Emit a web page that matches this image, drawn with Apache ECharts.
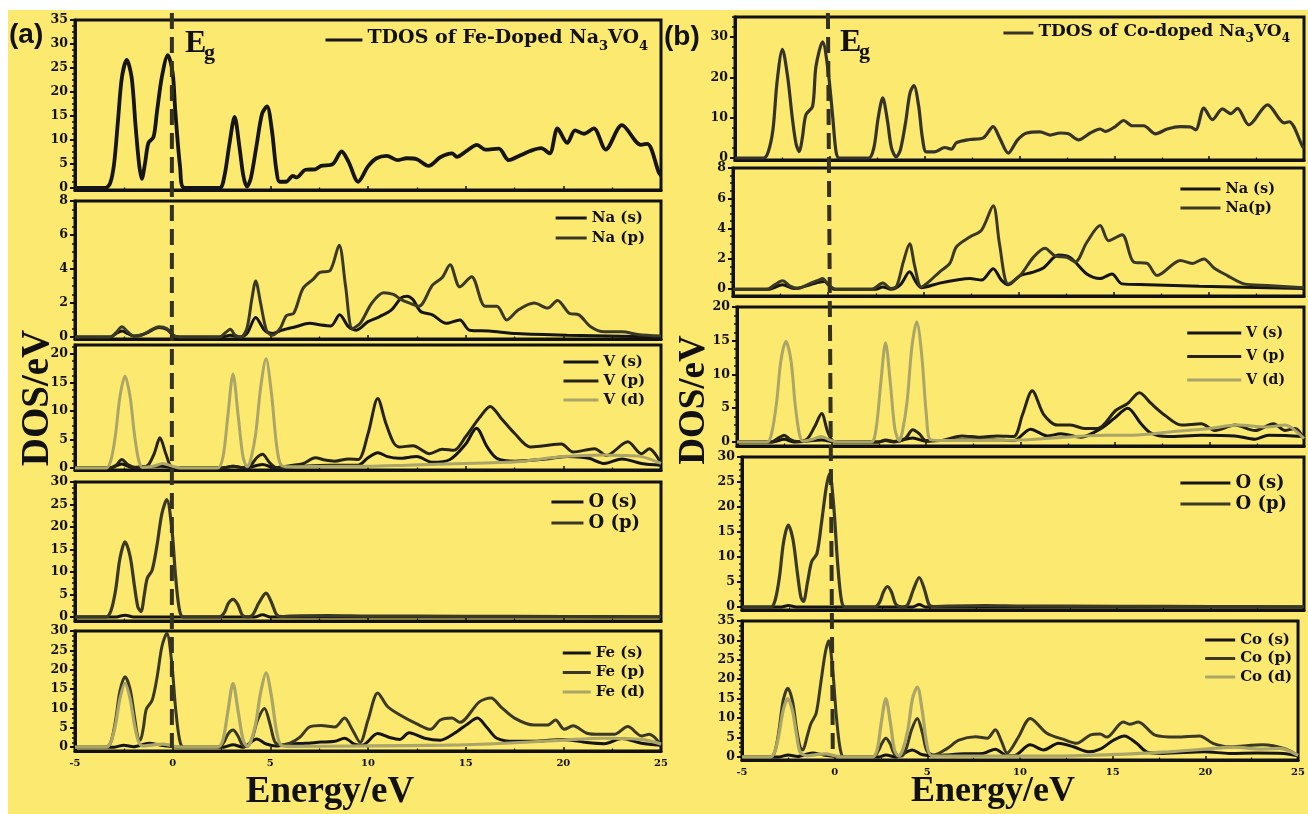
<!DOCTYPE html>
<html><head><meta charset="utf-8">
<script src="https://cdn.jsdelivr.net/npm/echarts@6.0.0/dist/echarts.min.js"></script>
<style>html,body{margin:0;padding:0;background:#fff}#c{width:1308px;height:814px}</style>
</head><body><div id="c"></div>
<script>
// ---------------- DATA (Energy eV, DOS) ----------------
const a_tdos = [[-5,0],[-3.45,0],[-3.2,1],[-3.0,5],[-2.8,14],[-2.6,23],[-2.35,26.7],[-2.1,23],[-1.9,13],[-1.72,5],[-1.58,1.9],[-1.42,5],[-1.24,9.4],[-0.98,10.6],[-0.8,16],[-0.55,23.2],[-0.25,27.7],[0.0,24],[0.13,16.3],[0.38,4.4],[0.6,0],[2.4,0],[2.65,2.5],[2.9,9],[3.17,14.8],[3.42,8.5],[3.62,2.5],[3.8,0.3],[4.0,2],[4.3,9],[4.58,15.5],[4.83,17],[5.08,12],[5.3,4],[5.48,1.3],[5.8,1.3],[6.15,2.5],[6.35,2.2],[6.8,3.8],[7.3,3.9],[7.6,4.6],[8.2,5.0],[8.65,7.6],[9.0,5.5],[9.5,1.3],[10.0,4.5],[10.44,6.2],[10.96,6.7],[11.5,5.8],[11.98,6.2],[12.5,6.0],[13.1,4.6],[13.7,6.4],[14.3,7.2],[14.55,6.5],[15.07,7.8],[15.58,9.0],[16.0,8.0],[16.7,8.2],[17.2,5.8],[17.8,6.8],[18.3,7.7],[18.86,8.3],[19.3,7.2],[19.7,12.4],[20.2,9.4],[20.6,12.0],[21.05,11.3],[21.56,12.4],[22.17,8.0],[23.0,13.1],[23.97,9.0],[24.3,9.2],[24.9,3.1],[25,2.6]];
const a_na_s = [[-5,0],[-3.2,0],[-2.9,0.2],[-2.6,0.35],[-2.3,0.2],[-2.0,0.05],[-1.4,0.2],[-0.7,0.55],[-0.3,0.45],[0.1,0.05],[0.5,0],[2.5,0],[2.95,0.1],[3.4,0],[3.8,0.2],[4.25,1.15],[4.7,0.4],[5.1,0.2],[5.6,0.4],[6.3,0.6],[7.0,0.8],[7.6,0.7],[8.1,0.65],[8.55,1.3],[9.0,0.6],[9.4,0.4],[10.0,0.9],[10.6,1.2],[11.2,1.6],[11.7,2.3],[12.0,2.4],[12.3,2.2],[12.7,1.5],[13.3,1.3],[14.0,0.8],[14.7,1.0],[15.2,0.4],[16.2,0.35],[17.6,0.2],[20.2,0.1],[25,0]];
const a_na_p = [[-5,0],[-3.2,0],[-2.9,0.25],[-2.6,0.6],[-2.3,0.3],[-2.0,0.05],[-1.6,0.1],[-1.2,0.35],[-0.7,0.6],[-0.3,0.5],[0.1,0.05],[0.5,0],[2.4,0],[2.75,0.3],[2.95,0.45],[3.2,0.1],[3.5,0],[3.8,0.5],[4.05,2.2],[4.25,3.3],[4.5,2.0],[4.8,0.4],[5.1,0.1],[5.5,0.5],[5.82,1.25],[6.2,1.4],[6.67,2.85],[7.2,3.4],[7.53,3.8],[8.05,3.9],[8.52,5.4],[8.85,3.0],[9.2,0.5],[9.6,0.8],[10.2,2.0],[10.8,2.6],[11.3,2.5],[11.7,2.2],[12.1,2.0],[12.6,1.8],[13.3,3.05],[13.8,3.5],[14.2,4.25],[14.7,2.95],[15.3,3.55],[16.0,1.8],[16.6,1.8],[17.1,1.0],[17.7,1.6],[18.5,2.0],[19.2,1.7],[19.7,2.15],[20.3,1.4],[20.8,1.3],[21.4,0.6],[22.1,0.3],[23,0.3],[23.8,0.15],[25,0.05]];
const a_v_s = [[-5,0],[-3.2,0],[-2.6,0.7],[-2.1,0.1],[-0.6,0.3],[0.3,0],[2.5,0],[3.1,0.3],[3.7,0],[4.6,0.6],[5.2,0.1],[6.5,0.3],[8,0.5],[9.5,0.5],[10.0,1.8],[10.5,2.7],[11.0,2.0],[11.6,1.7],[12.5,2.0],[13.3,1.0],[14.2,1.5],[15.0,4.2],[15.55,7.0],[16.1,3.7],[16.6,1.7],[17.5,1.2],[18.9,1.5],[20.2,2.0],[21.3,1.7],[22.1,0.8],[23,1.6],[24,0.8],[25,0.5]];
const a_v_p = [[-5,0],[-3.3,0],[-2.9,0.5],[-2.6,1.5],[-2.3,0.6],[-1.9,0.1],[-1.3,0.4],[-0.95,2.5],[-0.65,5.3],[-0.35,2.5],[-0.05,0.2],[0.5,0],[2.5,0],[3.1,0.3],[3.6,0.1],[4.0,0.5],[4.3,1.8],[4.6,2.4],[4.95,1.0],[5.3,0.1],[6.0,0.4],[6.7,0.8],[7.3,1.8],[7.8,1.4],[8.3,1.2],[9.0,1.6],[9.5,1.5],[10.0,6],[10.5,12.2],[10.9,8],[11.3,4.5],[11.6,3.7],[12.3,3.9],[13.15,2.5],[13.8,3.3],[14.4,3.1],[15.0,5.5],[15.7,8.8],[16.26,10.8],[16.8,8.8],[17.5,6.1],[18.3,3.7],[19.0,3.9],[19.9,4.2],[20.5,2.8],[21.6,3.4],[22.2,2.2],[23.3,4.6],[24.0,2.5],[24.4,3.4],[25,0.8]];
const a_v_d = [[-5,0],[-3.4,0],[-3.15,1.5],[-2.92,6],[-2.7,12.5],[-2.44,16.1],[-2.18,12.5],[-1.96,6],[-1.75,1.5],[-1.55,0.1],[-1.0,0.3],[-0.5,0.8],[0,0.3],[0.4,0],[2.3,0],[2.58,2],[2.82,9],[3.09,16.5],[3.36,9],[3.6,2],[3.82,0.2],[4.0,1.5],[4.25,6],[4.5,14],[4.78,19.2],[5.06,13],[5.32,4],[5.55,0.5],[6,0.2],[8,0.3],[10,0.3],[12,0.5],[15,0.8],[17,1.0],[18,1.2],[20,2.0],[22,2.3],[23,2.2],[24,2.0],[25,0.8]];
const a_o_s = [[-5,0],[-2.9,0],[-2.44,0.4],[-2.0,0],[4.2,0],[4.6,0.5],[5.0,0],[25,0]];
const a_o_p = [[-5,0],[-3.4,0],[-3.15,1.5],[-2.92,6],[-2.7,13],[-2.44,16.7],[-2.18,13.5],[-1.96,7],[-1.78,2.2],[-1.62,1.2],[-1.45,5],[-1.3,8.6],[-1.05,10.4],[-0.8,16],[-0.55,23],[-0.3,26.1],[-0.05,20],[0.15,9],[0.35,1.5],[0.55,0],[2.4,0],[2.65,1],[2.85,3],[3.09,3.9],[3.33,2.8],[3.58,0.3],[3.85,0],[4.1,0.5],[4.4,3],[4.78,5.3],[5.08,3],[5.32,0.5],[5.6,0.1],[6,0.2],[8,0.3],[10,0.2],[15,0.15],[20,0.1],[25,0.05]];
const a_fe_s = [[-5,0],[-3.0,0],[-2.5,0.5],[-2.0,0.1],[-1.2,1.0],[-0.6,0.5],[0.3,0],[2.6,0],[3.09,0.6],[3.6,0],[4.3,2.1],[4.8,0.8],[5.3,0.3],[6.0,0.8],[6.8,1.0],[7.6,1.3],[8.3,1.5],[8.8,2.3],[9.3,0.8],[9.7,0.5],[10.5,3.5],[11.1,2.5],[11.64,2.0],[12.1,3.7],[12.9,2.3],[13.7,1.8],[14.4,3.5],[15.1,6.0],[15.6,7.5],[16.1,5.0],[16.6,2.3],[17.5,1.5],[18.5,1.5],[20,2.0],[21.2,1.2],[22.1,0.9],[23,2.2],[24,1.0],[25,0.5]];
const a_fe_p = [[-5,0],[-3.4,0],[-3.15,1.5],[-2.92,7],[-2.7,14.5],[-2.44,18.2],[-2.18,15],[-1.96,8],[-1.78,2.5],[-1.66,1.8],[-1.5,5],[-1.35,9.8],[-1.05,12.1],[-0.8,18],[-0.55,26],[-0.3,29.4],[-0.05,22],[0.15,10],[0.35,2],[0.55,0],[2.4,0],[2.65,1.5],[2.85,3.5],[3.09,4.4],[3.33,3],[3.58,0.5],[3.8,0.2],[4.05,2],[4.35,7],[4.7,10],[4.98,6],[5.22,1.5],[5.5,0.5],[6.0,1.0],[6.5,2.5],[7.0,5.2],[7.6,5.6],[8.3,5.2],[8.8,7.5],[9.2,4.5],[9.6,1.2],[10.0,7],[10.5,14],[11.0,10.5],[11.64,8.3],[12.5,6.0],[13.2,4.6],[13.7,7.0],[14.3,7.5],[14.7,6.4],[15.7,11.7],[16.3,12.7],[16.8,10.4],[17.5,7.5],[18.5,5.7],[19.2,5.7],[19.6,7.0],[20.05,4.6],[20.5,5.5],[21.2,3.6],[21.9,3.3],[22.6,3.3],[23.3,5.3],[24.0,2.9],[24.4,3.3],[25,0.5]];
const a_fe_d = [[-5,0],[-3.4,0],[-3.15,1.5],[-2.92,6],[-2.7,12.5],[-2.44,16.5],[-2.18,12.5],[-1.96,6],[-1.75,1.5],[-1.55,0.3],[-1.0,0.6],[-0.5,0.8],[0,0.3],[0.4,0],[2.3,0],[2.58,2],[2.82,9],[3.09,16.5],[3.36,9],[3.6,2],[3.82,0.2],[4.0,1.5],[4.25,6],[4.5,14],[4.78,19.2],[5.06,13],[5.32,4],[5.55,0.5],[6,0.2],[10,0.3],[14,0.5],[17,1.0],[20,1.8],[22,2.3],[24,2.0],[25,0.8]];

const b_tdos = [[-5,0],[-3.5,0],[-3.25,1.5],[-3.0,7],[-2.78,19],[-2.5,27.0],[-2.22,20],[-1.98,10],[-1.78,3.5],[-1.61,1.6],[-1.45,5],[-1.26,10.75],[-0.91,12.8],[-0.73,22.8],[-0.38,28.8],[-0.1,22],[0.15,10.3],[0.33,1.5],[0.5,0],[2.05,0],[2.32,2.5],[2.55,10],[2.79,14.9],[3.03,9.5],[3.25,2.5],[3.5,0.3],[3.72,2],[4.0,9],[4.22,16],[4.43,18.0],[4.68,13],[4.88,5],[5.09,1.5],[5.53,1.5],[6.06,2.6],[6.41,2.2],[6.68,3.8],[7.38,4.6],[8.09,5.0],[8.61,7.8],[8.95,5],[9.41,1.2],[9.9,4.5],[10.38,6.2],[11.08,6.5],[11.61,5.7],[12.14,6.2],[12.58,6.0],[13.11,4.5],[13.73,6.2],[14.26,7.2],[14.52,6.6],[15.05,7.8],[15.49,9.3],[15.94,8.0],[16.55,8.0],[17.17,6.0],[17.79,7.2],[18.49,7.8],[19.02,7.7],[19.29,7.0],[19.72,12.4],[20.17,9.5],[20.7,12.2],[21.14,11.0],[21.49,12.3],[22.09,8.2],[23.08,13.2],[23.96,8.7],[24.22,9.0],[24.93,2.8],[25,2.5]];
const b_na_s = [[-5,0],[-3.1,0],[-2.4,0.3],[-1.8,0.05],[-0.5,0.45],[-0.2,0.5],[0.3,0],[2.5,0],[2.87,0.15],[3.3,0],[3.8,0.3],[4.28,1.15],[4.6,0.5],[4.89,0.1],[5.86,0.4],[6.74,0.6],[7.44,0.7],[8.06,0.6],[8.67,1.35],[9.1,0.6],[9.46,0.3],[10.08,0.9],[10.7,1.1],[11.3,1.4],[12.1,2.25],[12.71,2.1],[13.59,1.0],[14.29,0.7],[14.91,1.0],[15.44,0.35],[16.8,0.3],[19.5,0.2],[25,0.05]];
const b_na_p = [[-5,0],[-3.2,0],[-2.8,0.3],[-2.4,0.55],[-2.0,0.2],[-1.6,0.05],[-1.0,0.35],[-0.5,0.6],[-0.29,0.7],[0,0.3],[0.4,0],[2.3,0],[2.87,0.4],[3.3,0.05],[3.6,0.2],[3.95,1.8],[4.28,3.0],[4.55,1.5],[4.89,0.15],[5.3,0.5],[5.86,1.15],[6.39,1.7],[6.74,2.8],[7.44,3.45],[8.06,3.9],[8.67,5.5],[9.0,3],[9.46,0.35],[10.08,0.9],[10.78,2.1],[11.39,2.7],[11.92,2.2],[12.54,2.1],[12.98,1.8],[13.59,3.1],[14.29,4.2],[14.73,3.2],[15.44,3.6],[16.05,1.8],[16.76,1.7],[17.28,0.9],[18.51,1.9],[19.13,1.7],[19.74,2.0],[20.27,1.4],[20.97,0.9],[21.85,0.35],[23.08,0.25],[25,0.1]];
const b_v_s = [[-5,0],[-3.1,0],[-2.5,0.4],[-2.0,0],[-0.5,0.3],[0.2,0],[2.5,0],[2.86,0.2],[3.3,0],[4.3,0.6],[5.0,0.1],[6.5,0.3],[8.5,0.3],[9.64,0.2],[10.53,1.9],[11.42,0.9],[12.13,1.2],[13.19,0.7],[14.26,2.0],[14.96,3.5],[15.67,5.0],[16.38,2.7],[16.91,1.3],[17.8,0.8],[19.57,1.0],[21.35,0.9],[22.41,0.4],[23.12,1.0],[24.9,0.8],[25,0.6]];
const b_v_p = [[-5,0],[-3.2,0],[-2.8,0.6],[-2.5,1.0],[-2.2,0.4],[-1.8,0.05],[-1.3,0.4],[-0.9,2.2],[-0.52,4.2],[-0.2,1.5],[0.1,0.1],[0.5,0],[2.5,0],[2.86,0.3],[3.3,0.05],[3.9,0.5],[4.3,1.8],[4.65,1.2],[5.0,0.2],[5.74,0.2],[6.9,0.9],[7.87,0.7],[8.76,0.9],[9.64,0.8],[10.1,4],[10.62,7.6],[11.24,4.0],[11.95,2.5],[12.66,2.5],[13.37,2.0],[14.08,2.0],[15.05,4.7],[15.67,5.7],[16.29,7.3],[16.91,5.7],[17.62,4.0],[18.51,2.5],[19.57,2.7],[20.28,1.7],[21.35,2.5],[22.41,1.7],[23.39,2.7],[24.0,1.7],[24.54,2.0],[25,0.4]];
const b_v_d = [[-5,0],[-3.4,0],[-3.15,1.5],[-2.9,6],[-2.68,12],[-2.41,14.9],[-2.14,12],[-1.92,5.5],[-1.7,1.2],[-1.5,0.1],[-1,0.4],[-0.55,0.8],[-0.1,0.3],[0.3,0],[2.1,0],[2.36,2],[2.6,8.5],[2.86,14.7],[3.12,8.5],[3.35,2],[3.58,0.2],[3.75,1.5],[4.0,6],[4.25,14],[4.51,17.8],[4.77,13],[5.02,4],[5.25,0.3],[6,0.2],[10,0.3],[14.5,1.0],[16,1.0],[18,1.5],[20,2.0],[21.5,2.5],[23,2.2],[24,2.5],[25,0.5]];
const b_o_s = [[-5,0],[-2.9,0],[-2.53,0.3],[-2.1,0],[4.1,0],[4.46,0.5],[4.8,0],[25,0]];
const b_o_p = [[-5,0],[-3.45,0],[-3.22,1.5],[-3.0,6],[-2.78,13],[-2.53,16.4],[-2.28,13.5],[-2.05,7],[-1.86,2],[-1.72,1.1],[-1.5,5],[-1.28,9.1],[-1.0,10.7],[-0.75,17],[-0.5,24],[-0.32,26.7],[-0.1,20],[0.1,9],[0.3,1.5],[0.5,0],[2.1,0],[2.35,1],[2.55,3],[2.76,4.1],[2.98,3],[3.22,0.5],[3.6,0],[3.85,0.5],[4.15,3.5],[4.46,5.9],[4.74,3.5],[4.98,0.5],[5.2,0.1],[6,0.2],[8,0.3],[10,0.2],[15,0.15],[20,0.1],[25,0.05]];
const b_co_s = [[-5,0],[-3.0,0],[-2.5,0.5],[-2.0,0.1],[-1.2,1.0],[-0.6,0.5],[0.3,0],[2.4,0],[2.76,0.5],[3.3,0],[4.19,1.8],[4.7,0.6],[5.4,0.3],[6.0,0.5],[7.0,0.8],[8.0,0.9],[8.67,2.0],[9.3,0.3],[9.66,0.3],[10.55,3.1],[11.27,1.8],[12.08,3.5],[12.88,2.6],[13.69,1.3],[14.32,2.0],[15.04,4.3],[15.63,5.4],[16.29,3.5],[16.83,1.3],[17.7,0.9],[19.97,1.3],[21.3,0.9],[22.76,1.0],[24.2,0.9],[25,0.3]];
const b_co_p = [[-5,0],[-3.45,0],[-3.22,1.5],[-3.0,7],[-2.78,14.5],[-2.53,17.7],[-2.28,14.5],[-2.05,7],[-1.86,2.5],[-1.72,1.8],[-1.5,5],[-1.28,8.6],[-1.0,11.2],[-0.75,19],[-0.5,27],[-0.32,29.9],[-0.1,22],[0.1,10],[0.3,2],[0.5,0],[2.1,0],[2.35,1.5],[2.55,3.5],[2.76,4.8],[2.98,3.5],[3.22,0.8],[3.6,0.2],[3.85,2],[4.15,7],[4.46,9.9],[4.74,6],[4.98,1.5],[5.36,0.5],[6.08,2.2],[6.7,4.3],[7.6,5.2],[8.23,4.8],[8.67,7.0],[9.0,4],[9.3,1.0],[9.9,5],[10.55,9.9],[11.45,6.1],[12.35,4.5],[13.06,3.5],[13.78,5.6],[14.32,5.9],[14.68,5.1],[15.57,9.0],[15.92,8.4],[16.38,9.0],[17.29,5.6],[18.44,5.1],[19.69,5.4],[20.41,3.5],[21.3,2.6],[23.1,3.1],[24.35,2.0],[25,0.3]];
const b_co_d = [[-5,0],[-3.45,0],[-3.22,1.5],[-3.0,6],[-2.78,12],[-2.53,15.0],[-2.28,12],[-2.05,5.5],[-1.86,1.2],[-1.5,0.3],[-1.0,0.6],[-0.5,0.8],[0,0.3],[0.3,0],[2.05,0],[2.3,2],[2.52,9],[2.76,15.0],[3.0,9],[3.22,2],[3.45,0.2],[3.65,1.5],[3.95,7],[4.2,15],[4.46,18.0],[4.72,12],[4.98,3],[5.22,0.3],[6,0.2],[12,0.2],[16,0.8],[18,1.3],[20,2.0],[21.5,2.5],[23,2.0],[24,2.2],[25,0.4]];

// tick labels
const xTickLabels = [-5, 0, 5, 10, 15, 20, 25];
const yTicksA = [[0,5,10,15,20,25,30,35],[0,2,4,6,8],[0,5,10,15,20],[0,5,10,15,20,25,30],[0,5,10,15,20,25,30]];
const yTicksB = [[0,10,20,30],[0,2,4,6,8],[0,5,10,15,20],[0,5,10,15,20,25,30],[0,5,10,15,20,25,30,35]];
const EgA = -0.04, EgB = -0.1;

// ---------------- LAYOUT / STYLE ----------------
const SERIF = 'DejaVu Serif', TIMES = 'Liberation Serif';
const K = '#151515', D = '#3a3826', L = '#aba567', INK = '#111';
const grids = [
  {l:75,w:586,t:20,h:170, y:[-0.42,35]},
  {l:75,w:586,t:201,h:138, y:[-0.12,8]},
  {l:75,w:586,t:345,h:125, y:[-0.35,21.6]},
  {l:75,w:586,t:482,h:139, y:[-0.9,30]},
  {l:75,w:586,t:631,h:120, y:[-1.0,30]},
  {l:735,w:569,t:17,h:143, y:[-0.5,35]},
  {l:733,w:571,t:168,h:128, y:[-0.45,8]},
  {l:737,w:567,t:307,h:139, y:[-0.6,20]},
  {l:742,w:562,t:457,h:153, y:[-0.6,30]},
  {l:742,w:562,t:621,h:139, y:[-0.8,35]}
];
const majors = yTicksA.concat(yTicksB);
const panels = [
  {s:[['TDOS of Fe-Doped Na3VO4',a_tdos,K,3.8]], lg:{fs:19,w:37,right:660,c:40,pitch:0}},
  {s:[['Na (s)',a_na_s,K,3],['Na (p)',a_na_p,D,3]], lg:{fs:15,w:31,right:663,c:218,pitch:20}},
  {s:[['V (s)',a_v_s,K,3],['V (p)',a_v_p,'#262418',3],['V (d)',a_v_d,L,3]], lg:{fs:15,w:35,right:663,c:362,pitch:19}},
  {s:[['O (s)',a_o_s,K,3],['O (p)',a_o_p,D,3.2]], lg:{fs:18,w:32,right:668,c:502,pitch:21}},
  {s:[['Fe (s)',a_fe_s,K,3],['Fe (p)',a_fe_p,D,3],['Fe (d)',a_fe_d,L,3.2]], lg:{fs:15,w:28,right:663,c:653,pitch:19.5}},
  {s:[['TDOS of Co-doped Na3VO4',b_tdos,'#35332a',3.2]], lg:{fs:17,w:30,right:18,c:33,pitch:0}},
  {s:[['Na (s)',b_na_s,K,3],['Na(p)',b_na_p,D,3]], lg:{fs:14.5,w:40,right:33,c:189,pitch:19}},
  {s:[['V (s)',b_v_s,K,3],['V (p)',b_v_p,'#262418',3],['V (d)',b_v_d,L,3]], lg:{fs:14,w:54,right:23,c:333,pitch:23.5}},
  {s:[['O (s)',b_o_s,K,3],['O (p)',b_o_p,D,3.2]], lg:{fs:18,w:50,right:21,c:483,pitch:21}},
  {s:[['Co (s)',b_co_s,K,3],['Co (p)',b_co_p,D,3],['Co (d)',b_co_d,L,3.2]], lg:{fs:15,w:30,right:16,c:640,pitch:18.5}}
];

function minorsOf(maj, max) {
  const out = [];
  const step = maj[1] - maj[0], q = step / 4;
  for (let v = maj[0]; v <= max + 1e-9; v += q) {
    if (!maj.some(m => Math.abs(m - v) < 1e-9)) out.push(+v.toFixed(4));
  }
  return out;
}

const option = {
  backgroundColor: '#fbe970',
  animation: false,
  grid: [], xAxis: [], yAxis: [], series: [], legend: [], graphic: []
};

grids.forEach((g, i) => {
  option.grid.push({left:g.l, top:g.t, width:g.w, height:g.h, show:true, borderColor:INK, borderWidth:3, backgroundColor:'transparent', containLabel:false});
  const bottom = (i === 4 || i === 9);
  option.xAxis.push({
    gridIndex:i, type:'value', min:xTickLabels[0], max:xTickLabels[xTickLabels.length-1], interval:5,
    axisLine:{onZero:false, lineStyle:{color:INK, width:3}},
    axisTick:{show:true, inside:true, length:4, lineStyle:{color:INK, width:1.5}},
    minorTick:{show:true, splitNumber:2, length:2.5, lineStyle:{color:INK, width:1.2}},
    axisLabel:{show:bottom, fontFamily:SERIF, fontWeight:'bold', fontSize:10, color:INK, margin:7},
    splitLine:{show:false}, minorSplitLine:{show:false}
  });
});
grids.forEach((g, i) => {
  option.yAxis.push({
    gridIndex:i, type:'value', position:'left', min:g.y[0], max:g.y[1],
    axisLine:{show:true, onZero:false, lineStyle:{color:INK, width:3}},
    axisTick:{show:true, length:5, customValues:majors[i], lineStyle:{color:INK, width:2}},
    axisLabel:{customValues:majors[i], fontFamily:SERIF, fontWeight:'bold', fontSize:12.5, color:INK, margin:7},
    splitLine:{show:false}
  });
});
grids.forEach((g, i) => {
  option.yAxis.push({
    gridIndex:i, type:'value', position:'left', offset:0, min:g.y[0], max:g.y[1],
    axisLine:{show:false, onZero:false},
    axisTick:{show:true, length:3, customValues:minorsOf(majors[i], g.y[1]), lineStyle:{color:INK, width:1.5}},
    axisLabel:{show:false}, splitLine:{show:false}
  });
});

panels.forEach((p, i) => {
  p.s.forEach(([name, data, color, w]) => {
    option.series.push({
      type:'line', name, data, xAxisIndex:i, yAxisIndex:i,
      showSymbol:false, symbol:'none', smooth:0.3, color,
      lineStyle:{color, width:w}, itemStyle:{color}, silent:true, z:3
    });
  });
  const lg = p.lg, isT = p.s[0][0].indexOf('TDOS') === 0;
  const lh = lg.fs + 2;
  const leg = {
    data:p.s.map(s => s[0]), orient:'vertical', right:lg.right, padding:0,
    icon:'rect', itemWidth:lg.w, itemHeight:3, itemGap:Math.max(0, lg.pitch - lh),
    selectedMode:false,
    textStyle:{fontFamily:SERIF, fontWeight:'bold', fontSize:lg.fs, color:INK, lineHeight:lh}
  };
  if (isT) {
    const fs = lg.fs;
    leg.top = lg.c - Math.round(fs * 0.6);
    leg.formatter = n => {
      const m = n.match(/^(.*Na)3VO4$/);
      return '{t|' + m[1] + '}{s|3}{t|VO}{s|4}';
    };
    leg.textStyle.rich = {
      t:{fontFamily:SERIF, fontWeight:'bold', fontSize:fs, color:INK, lineHeight:fs+3, verticalAlign:'top'},
      s:{fontFamily:SERIF, fontWeight:'bold', fontSize:Math.round(fs*0.7), color:INK, lineHeight:Math.round(fs*0.75), padding:[Math.round(fs*0.6),0,0,0], verticalAlign:'top'}
    };
    delete leg.textStyle.lineHeight;
  } else {
    leg.top = lg.c - lh / 2;
  }
  option.legend.push(leg);
});

const txt = (id, x, y, text, font, extra) => Object.assign({
  type:'text', id, x, y, z:20, silent:true,
  style:{text, font, fill:INK, textAlign:'left', textVerticalAlign:'middle'}
}, extra || {});

option.graphic = [
  {type:'rect', id:'wTop', shape:{x:0,y:0,width:1308,height:10}, style:{fill:'#fff'}, z:-5, silent:true},
  {type:'rect', id:'wLeft', shape:{x:0,y:0,width:8,height:814}, style:{fill:'#fff'}, z:-5, silent:true},
  txt('la', 9, 35, '(a)', 'bold 28px "Liberation Sans"'),
  txt('lb', 664, 37, '(b)', 'bold 28px "Liberation Sans"'),
  txt('eA', 185, 44, 'E', 'bold 32px "' + TIMES + '"'),
  txt('gA', 204, 53, 'g', 'bold 22px "' + TIMES + '"'),
  txt('eB', 840, 43, 'E', 'bold 32px "' + TIMES + '"'),
  txt('gB', 859, 52, 'g', 'bold 22px "' + TIMES + '"'),
  {type:'text', id:'dosA', x:38, y:398, rotation:Math.PI/2, z:20, silent:true,
   style:{text:'DOS/eV', font:'bold 39px "' + TIMES + '"', fill:INK, textAlign:'center', textVerticalAlign:'middle'}},
  {type:'text', id:'dosB', x:694, y:400, rotation:Math.PI/2, z:20, silent:true,
   style:{text:'DOS/eV', font:'bold 37px "' + TIMES + '"', fill:INK, textAlign:'center', textVerticalAlign:'middle'}},
  {type:'text', id:'enA', x:330, y:792, z:20, silent:true,
   style:{text:'Energy/eV', font:'bold 37px "' + TIMES + '"', fill:INK, textAlign:'center', textVerticalAlign:'middle'}},
  {type:'text', id:'enB', x:993, y:792, z:20, silent:true,
   style:{text:'Energy/eV', font:'bold 36px "' + TIMES + '"', fill:INK, textAlign:'center', textVerticalAlign:'middle'}}
];

const chart = echarts.init(document.getElementById('c'), null, {renderer:'canvas'});
chart.setOption(option);

// E_g reference dashed lines positioned through the library's axes
const xa = chart.convertToPixel({xAxisIndex:0}, EgA);
const xbTop = chart.convertToPixel({xAxisIndex:5}, EgB);
const xbBot = chart.convertToPixel({xAxisIndex:9}, EgB);
chart.setOption({graphic:[
  {type:'line', id:'egA', z:30, silent:true, shape:{x1:xa, y1:13, x2:xa, y2:748},
   style:{stroke:'#34321f', lineWidth:4, lineDash:[16,8]}},
  {type:'line', id:'egB', z:30, silent:true, shape:{x1:xbTop, y1:13, x2:xbBot, y2:757},
   style:{stroke:'#34321f', lineWidth:4, lineDash:[16,8]}}
]});
</script></body></html>
